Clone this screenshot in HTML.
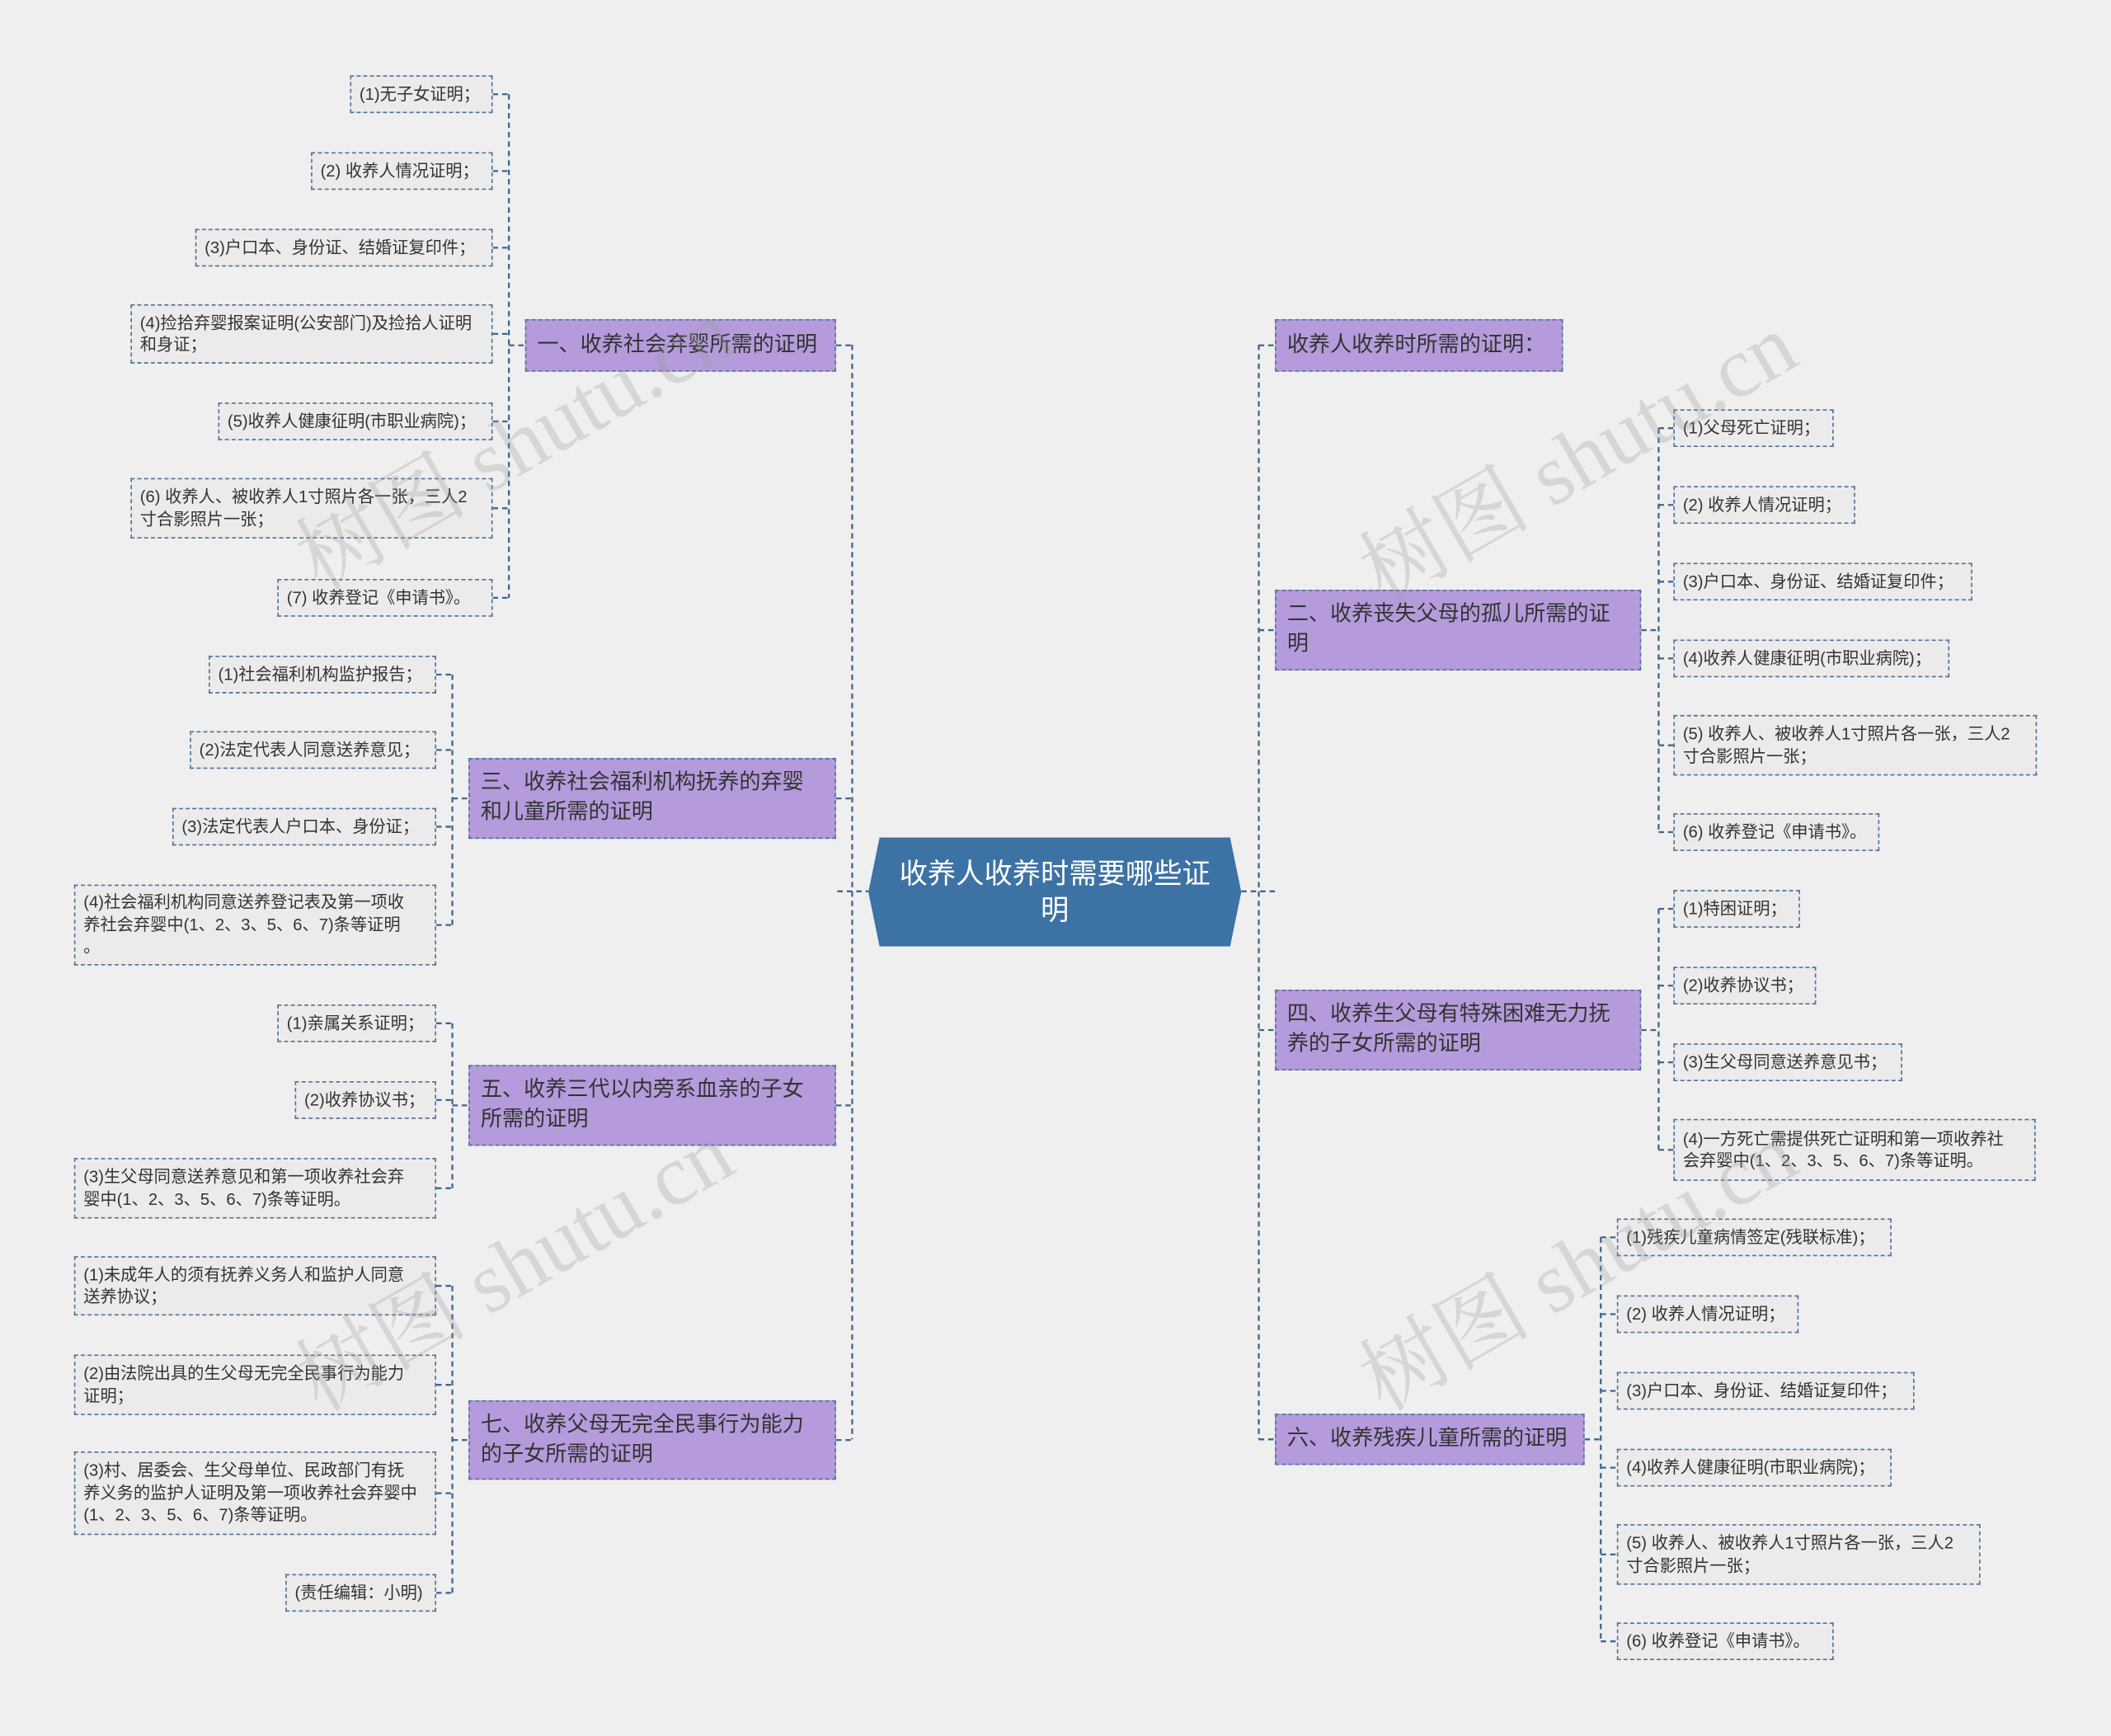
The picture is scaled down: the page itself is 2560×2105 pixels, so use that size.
<!DOCTYPE html>
<html><head><meta charset="utf-8">
<style>
html,body{margin:0;padding:0;background:#efefef;}
#wrap{position:relative;width:1568px;height:1289px;transform:scale(1.63265);transform-origin:0 0;overflow:hidden;font-family:"Liberation Sans","Noto Sans CJK SC",sans-serif;}
.n{position:absolute;box-sizing:border-box;border:1px dashed #4f7299;display:flex;align-items:center;white-space:nowrap;}
.leaf{background:#ebebeb;color:#333;font-size:12.4px;line-height:16.5px;padding:0 6px;}
.br{background:#b59bdb;color:#333;font-size:16px;line-height:22px;padding:0 8px;}
.ctr{position:absolute;left:645px;top:622px;width:277px;height:81px;background:#3d72a4;clip-path:polygon(3% 0,97% 0,100% 50%,97% 100%,3% 100%,0 50%);color:#fff;font-size:21px;line-height:27px;text-align:center;display:flex;align-items:center;justify-content:center;padding:0 16px;box-sizing:border-box;}
svg{position:absolute;left:0;top:0;}
.wm{position:absolute;font-size:64px;color:rgba(150,150,150,0.28);transform:rotate(-30deg);white-space:nowrap;font-family:"Liberation Serif","Noto Serif CJK SC",serif;}
</style></head><body>
<div id="wrap">
<svg id="s" width="1568" height="1289"></svg>
<div class="ctr">收养人收养时需要哪些证明</div>
</div>
<script>
var W=document.getElementById('wrap'),S=document.getElementById('s');
function box(cls,x1,y1,x2,y2,t){var d=document.createElement('div');d.className='n '+cls;d.style.left=x1+'px';d.style.top=y1+'px';d.style.width=(x2-x1)+'px';d.style.height=(y2-y1)+'px';d.innerHTML='<span>'+t+'</span>';W.appendChild(d);}
function ln(x1,y1,x2,y2){var l=document.createElementNS('http://www.w3.org/2000/svg','line');l.setAttribute('x1',x1);l.setAttribute('y1',y1);l.setAttribute('x2',x2);l.setAttribute('y2',y2);l.setAttribute('stroke','#3f6690');l.setAttribute('stroke-width','1.4');l.setAttribute('stroke-dasharray','4 3');S.appendChild(l);}
ln(633,256,633,1069);ln(622,662,645,662);
ln(935,256,935,1069);ln(922,662,947,662);
function group(side,b,bx,leaves){
 box('br',b[0],b[1],b[2],b[3],b[4]);var cy=(b[1]+b[3])/2;
 if(side=='L'){ln(b[2],cy,633,cy);}else{ln(935,cy,b[0],cy);}
 if(!leaves)return;
 var ys=[];
 leaves.forEach(function(L){box('leaf',L[0],L[1],L[2],L[3],L[4]);var c=(L[1]+L[3])/2;ys.push(c);
  if(side=='L')ln(L[2],c,bx,c);else ln(bx,c,L[0],c);});
 ln(bx,ys[0],bx,ys[ys.length-1]);
 if(side=='L')ln(bx,cy,b[0],cy);else ln(b[2],cy,bx,cy);
}
group('L',[390,237,621,276,'一、收养社会弃婴所需的证明'],378,[
[260,56,366,84,'(1)无子女证明；'],
[231,113,366,141,'(2) 收养人情况证明；'],
[145,170,366,198,'(3)户口本、身份证、结婚证复印件；'],
[97,226,366,270,'(4)捡拾弃婴报案证明(公安部门)及捡拾人证明<br>和身证；'],
[162,299,366,327,'(5)收养人健康征明(市职业病院)；'],
[97,355,366,400,'(6) 收养人、被收养人1寸照片各一张，三人2<br>寸合影照片一张；'],
[206,430,366,458,'(7) 收养登记《申请书》。']]);
group('L',[348,563,621,623,'三、收养社会福利机构抚养的弃婴<br>和儿童所需的证明'],336,[
[155,487,324,515,'(1)社会福利机构监护报告；'],
[141,543,324,571,'(2)法定代表人同意送养意见；'],
[128,600,324,628,'(3)法定代表人户口本、身份证；'],
[55,657,324,717,'(4)社会福利机构同意送养登记表及第一项收<br>养社会弃婴中(1、2、3、5、6、7)条等证明<br>。']]);
group('L',[348,791,621,851,'五、收养三代以内旁系血亲的子女<br>所需的证明'],336,[
[206,746,324,774,'(1)亲属关系证明；'],
[219,803,324,831,'(2)收养协议书；'],
[55,860,324,905,'(3)生父母同意送养意见和第一项收养社会弃<br>婴中(1、2、3、5、6、7)条等证明。']]);
group('L',[348,1040,621,1099,'七、收养父母无完全民事行为能力<br>的子女所需的证明'],336,[
[55,933,324,977,'(1)未成年人的须有抚养义务人和监护人同意<br>送养协议；'],
[55,1006,324,1051,'(2)由法院出具的生父母无完全民事行为能力<br>证明；'],
[55,1078,324,1140,'(3)村、居委会、生父母单位、民政部门有抚<br>养义务的监护人证明及第一项收养社会弃婴中<br>(1、2、3、5、6、7)条等证明。'],
[212,1169,324,1197,'(责任编辑：小明)']]);
group('R',[947,237,1161,276,'收养人收养时所需的证明：'],0,null);
group('R',[947,438,1219,498,'二、收养丧失父母的孤儿所需的证<br>明'],1232,[
[1243,304,1362,332,'(1)父母死亡证明；'],
[1243,361,1378,389,'(2) 收养人情况证明；'],
[1243,418,1465,446,'(3)户口本、身份证、结婚证复印件；'],
[1243,475,1448,503,'(4)收养人健康征明(市职业病院)；'],
[1243,531,1513,576,'(5) 收养人、被收养人1寸照片各一张，三人2<br>寸合影照片一张；'],
[1243,604,1396,632,'(6) 收养登记《申请书》。']]);
group('R',[947,735,1219,795,'四、收养生父母有特殊困难无力抚<br>养的子女所需的证明'],1232,[
[1243,661,1337,689,'(1)特困证明；'],
[1243,718,1349,746,'(2)收养协议书；'],
[1243,775,1413,803,'(3)生父母同意送养意见书；'],
[1243,831,1512,877,'(4)一方死亡需提供死亡证明和第一项收养社<br>会弃婴中(1、2、3、5、6、7)条等证明。']]);
group('R',[947,1050,1177,1088,'六、收养残疾儿童所需的证明'],1189,[
[1201,905,1405,933,'(1)残疾儿童病情签定(残联标准)；'],
[1201,962,1336,990,'(2) 收养人情况证明；'],
[1201,1019,1422,1047,'(3)户口本、身份证、结婚证复印件；'],
[1201,1076,1405,1104,'(4)收养人健康征明(市职业病院)；'],
[1201,1132,1471,1177,'(5) 收养人、被收养人1寸照片各一张，三人2<br>寸合影照片一张；'],
[1201,1205,1362,1233,'(6) 收养登记《申请书》。']]);
[[200,280],[990,290],[200,890],[990,890]].forEach(function(p){var d=document.createElement('div');d.className='wm';d.style.left=p[0]+'px';d.style.top=p[1]+'px';d.textContent='树图 shutu.cn';W.appendChild(d);});
</script>
</body></html>
